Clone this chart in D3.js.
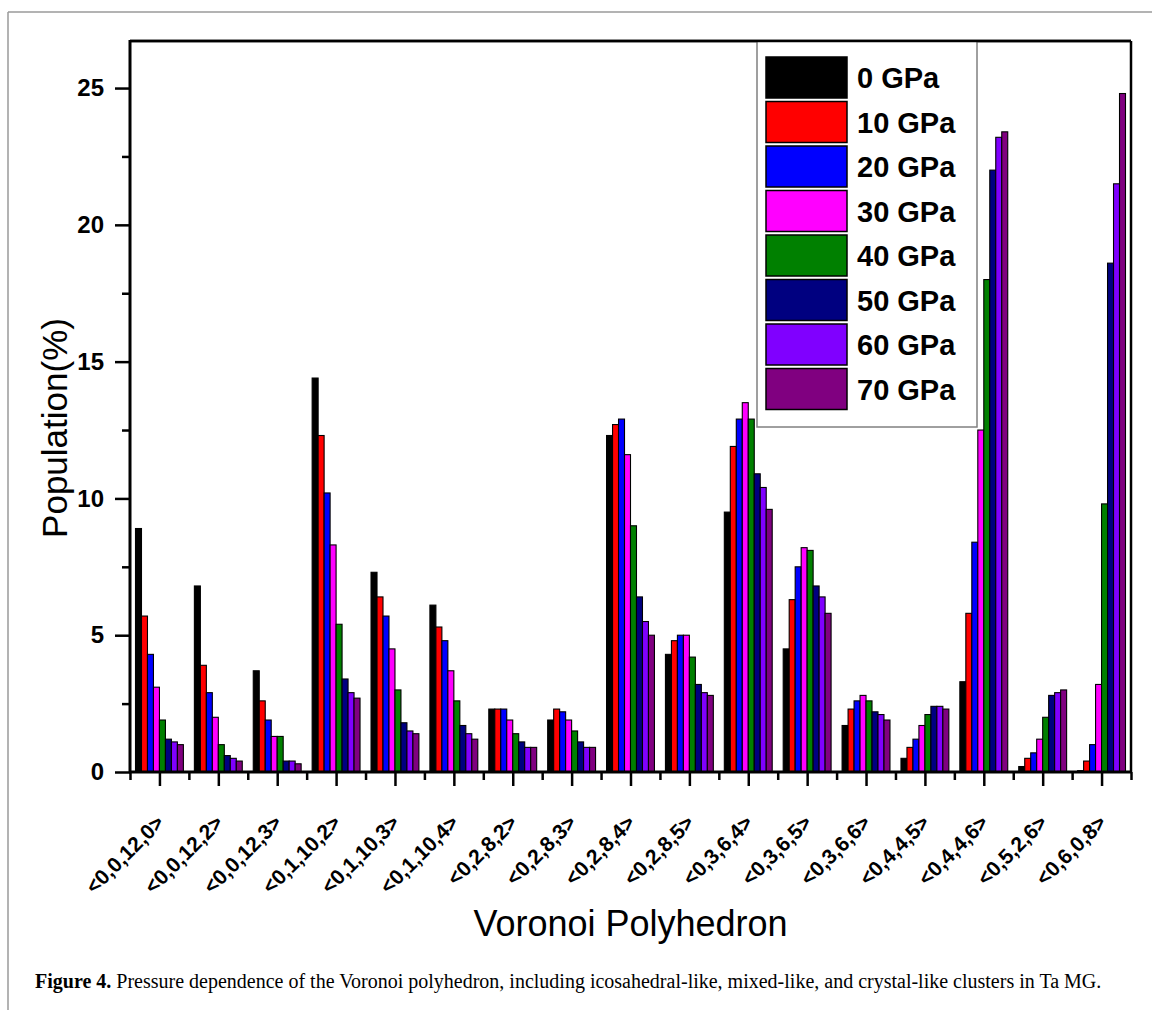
<!DOCTYPE html>
<html><head><meta charset="utf-8">
<script src="https://cdn.jsdelivr.net/npm/d3@7"></script>
<style>
html,body{margin:0;padding:0;background:#fff;}
svg{display:block;}
</style></head>
<body>
<svg id="chart" width="1152" height="1010"></svg>
<script>
const categories = ["<0,0,12,0>","<0,0,12,2>","<0,0,12,3>","<0,1,10,2>","<0,1,10,3>","<0,1,10,4>","<0,2,8,2>","<0,2,8,3>","<0,2,8,4>","<0,2,8,5>","<0,3,6,4>","<0,3,6,5>","<0,3,6,6>","<0,4,4,5>","<0,4,4,6>","<0,5,2,6>","<0,6,0,8>"];
const seriesNames = ["0 GPa","10 GPa","20 GPa","30 GPa","40 GPa","50 GPa","60 GPa","70 GPa"];
const seriesColors = ["#000000","#ff0000","#0000ff","#ff00ff","#008000","#000080","#8000ff","#800080"];
const gpa0  = [8.9,6.8,3.7,14.4,7.3,6.1,2.3,1.9,12.3,4.3,9.5,4.5,1.7,0.5,3.3,0.2,0.05];
const gpa10 = [5.7,3.9,2.6,12.3,6.4,5.3,2.3,2.3,12.7,4.8,11.9,6.3,2.3,0.9,5.8,0.5,0.4];
const gpa20 = [4.3,2.9,1.9,10.2,5.7,4.8,2.3,2.2,12.9,5.0,12.9,7.5,2.6,1.2,8.4,0.7,1.0];
const gpa30 = [3.1,2.0,1.3,8.3,4.5,3.7,1.9,1.9,11.6,5.0,13.5,8.2,2.8,1.7,12.5,1.2,3.2];
const gpa40 = [1.9,1.0,1.3,5.4,3.0,2.6,1.4,1.5,9.0,4.2,12.9,8.1,2.6,2.1,18.0,2.0,9.8];
const gpa50 = [1.2,0.6,0.4,3.4,1.8,1.7,1.1,1.1,6.4,3.2,10.9,6.8,2.2,2.4,22.0,2.8,18.6];
const gpa60 = [1.1,0.5,0.4,2.9,1.5,1.4,0.9,0.9,5.5,2.9,10.4,6.4,2.1,2.4,23.2,2.9,21.5];
const gpa70 = [1.0,0.4,0.3,2.7,1.4,1.2,0.9,0.9,5.0,2.8,9.6,5.8,1.9,2.3,23.4,3.0,24.8];
const seriesValues = [gpa0,gpa10,gpa20,gpa30,gpa40,gpa50,gpa60,gpa70];
const yMajorTicks = [0,5,10,15,20,25];
const yMinorTicks = [2.5,7.5,12.5,17.5,22.5];
const yTitle = "Population(%)";
const xTitle = "Voronoi Polyhedron";
const captionBold = "Figure 4.";
const captionText = " Pressure dependence of the Voronoi polyhedron, including icosahedral-like, mixed-like, and crystal-like clusters in Ta MG.";

const svg = d3.select("#chart");
const sans = "'Liberation Sans', Arial, Helvetica, sans-serif";
const serif = "'Liberation Serif', 'Times New Roman', serif";

// outer figure frame (gray)
svg.append("line").attr("x1",8).attr("y1",12).attr("x2",1152).attr("y2",12).attr("stroke","#9a9a9a").attr("stroke-width",1.5);
svg.append("line").attr("x1",8).attr("y1",12).attr("x2",8).attr("y2",1010).attr("stroke","#9a9a9a").attr("stroke-width",1.5);

const L = 130, R = 1131, T = 41, B = 772;
const x0 = d3.scaleBand().domain(categories).range([L, R]).padding(0);
const bw = x0.bandwidth();
const x1 = d3.scaleBand().domain(seriesNames).range([5.5, bw - 5.5]).padding(0);
const y = d3.scaleLinear().domain([0, 26.72]).range([B, T]);

// bars
const data = [];
categories.forEach((c, i) => seriesNames.forEach((s, j) => data.push({c, s, j, v: seriesValues[j][i]})));
svg.append("g").selectAll("rect").data(data).join("rect")
  .attr("x", d => x0(d.c) + x1(d.s))
  .attr("y", d => y(d.v))
  .attr("width", x1.bandwidth())
  .attr("height", d => B - y(d.v))
  .attr("fill", d => seriesColors[d.j])
  .attr("stroke", "#000").attr("stroke-width", 1.1);

// frame top/right
svg.append("line").attr("x1",L).attr("y1",T).attr("x2",R).attr("y2",T).attr("stroke","#000").attr("stroke-width",2.5);
svg.append("line").attr("x1",R).attr("y1",T).attr("x2",R).attr("y2",B).attr("stroke","#000").attr("stroke-width",2.5);

// y axis
const yAx = svg.append("g").attr("transform",`translate(${L},0)`)
  .call(d3.axisLeft(y).tickValues(yMajorTicks).tickSize(15).tickPadding(11).tickFormat(d3.format("d")));
yAx.select(".domain").remove();
yAx.selectAll(".tick line").attr("stroke-width",2.5);
yAx.selectAll("text").attr("font-family",sans).attr("font-weight","bold").attr("font-size",24).attr("fill","#000");
const yMin = svg.append("g").attr("transform",`translate(${L},0)`)
  .call(d3.axisLeft(y).tickValues(yMinorTicks).tickSize(8).tickFormat(""));
yMin.select(".domain").remove();
yMin.selectAll(".tick line").attr("stroke-width",2.5);
svg.append("line").attr("x1",L).attr("y1",T-1).attr("x2",L).attr("y2",B+1).attr("stroke","#000").attr("stroke-width",3);

// x axis
const xc = d3.scalePoint().domain(categories).range([L + bw/2, R - bw/2]);
const xAx = svg.append("g").attr("transform",`translate(0,${B})`)
  .call(d3.axisBottom(xc).tickSize(14).tickFormat(""));
xAx.select(".domain").remove();
xAx.selectAll(".tick line").attr("stroke-width",2.5);
const boundaries = d3.range(categories.length + 1).map(i => L + i * bw);
const xMinAx = svg.append("g").attr("transform",`translate(0,${B})`)
  .call(d3.axisBottom(d3.scaleLinear().domain([L,R]).range([L,R])).tickValues(boundaries).tickSize(8).tickFormat(""));
xMinAx.select(".domain").remove();
xMinAx.selectAll(".tick line").attr("stroke-width",2.5);
svg.append("line").attr("x1",L-1).attr("y1",B).attr("x2",R+1).attr("y2",B).attr("stroke","#000").attr("stroke-width",3);

// x labels rotated
svg.append("g").selectAll("text").data(categories).join("text")
  .attr("transform", d => `translate(${xc(d)+6},${B+52}) rotate(-45)`)
  .attr("text-anchor","end")
  .attr("font-family",sans).attr("font-weight","bold").attr("font-size",21).attr("fill","#000")
  .text(d => d);

// axis titles
svg.append("text").attr("transform",`translate(67,428) rotate(-90)`).attr("text-anchor","middle")
  .attr("font-family",sans).attr("font-size",35).attr("fill","#000").text(yTitle);
svg.append("text").attr("x",(L+R)/2).attr("y",936).attr("text-anchor","middle")
  .attr("font-family",sans).attr("font-size",36).attr("fill","#000").text(xTitle);

// legend
const lg = svg.append("g");
lg.append("rect").attr("x",757).attr("y",T).attr("width",220).attr("height",386)
  .attr("fill","#fff").attr("stroke","#808080").attr("stroke-width",1.5);
seriesNames.forEach((s, j) => {
  const top = 57 + j * 44.5;
  lg.append("rect").attr("x",766).attr("y",top).attr("width",81).attr("height",41)
    .attr("fill",seriesColors[j]).attr("stroke","#000").attr("stroke-width",1.5);
  lg.append("text").attr("x",857).attr("y",top + 31).attr("font-family",sans).attr("font-weight","bold")
    .attr("font-size",29).attr("fill","#000").text(s);
});
// redraw top frame over legend edge
svg.append("line").attr("x1",L).attr("y1",T).attr("x2",R).attr("y2",T).attr("stroke","#000").attr("stroke-width",2.5);

// caption
const cap = svg.append("text").attr("x",35).attr("y",988).attr("font-family",serif).attr("font-size",20).attr("fill","#000");
cap.append("tspan").attr("font-weight","bold").text(captionBold);
cap.append("tspan").text(captionText);
</script>
</body></html>
